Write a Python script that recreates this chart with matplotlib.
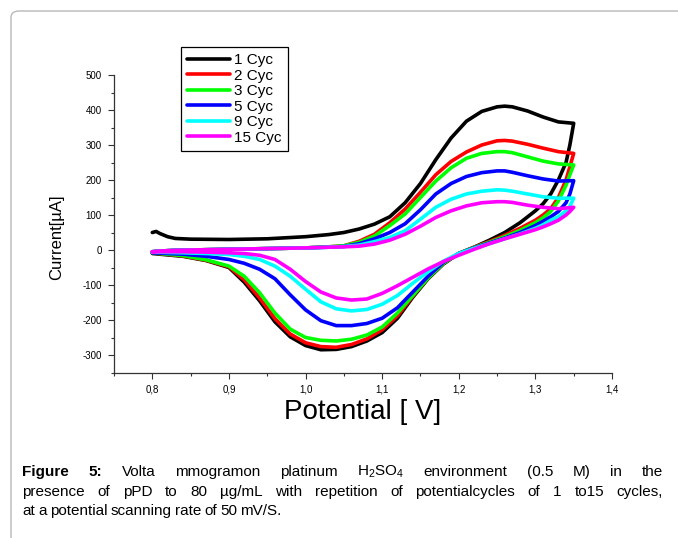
import matplotlib.pyplot as plt
from matplotlib import font_manager
from matplotlib.patches import FancyBboxPatch
from matplotlib.ticker import MultipleLocator

# --- fonts ---
installed = {f.name for f in font_manager.fontManager.ttflist}
cap_font = 'Liberation Sans Narrow' if 'Liberation Sans Narrow' in installed else 'Liberation Sans'
plt.rcParams['font.family'] = ['Liberation Sans', 'DejaVu Sans']
plt.rcParams['mathtext.default'] = 'regular'
plt.rcParams['axes.unicode_minus'] = False

# --- data ---
labels = ['1 Cyc', '2 Cyc', '3 Cyc', '5 Cyc', '9 Cyc', '15 Cyc']
colors = ['#000000', '#ff0000', '#00ff00', '#0000ff', '#00ffff', '#ff00ff']

# forward (anodic) scan, 0.80 -> 1.35 V
fwd_E = [0.80, 0.805, 0.81, 0.82, 0.83, 0.85, 0.90, 0.95, 1.00, 1.03,
         1.05, 1.07, 1.09, 1.11, 1.13, 1.15, 1.17, 1.19, 1.21, 1.23,
         1.25, 1.26, 1.27, 1.29, 1.31, 1.33, 1.35]
fwd_1 = [50, 53, 47, 38, 33, 31, 30, 32, 38, 44,
         50, 60, 74, 95, 135, 190, 258, 320, 368, 396,
         409, 411, 409, 397, 380, 366, 362]
fwd_2 = [-5, -4, -3, -2, -1, 0, 2, 4, 6, 9,
         12, 25, 45, 78, 117, 165, 215, 253, 280, 300,
         312, 313, 311, 302, 291, 281, 276]
fwd_3 = [-5, -4, -3, -2, -1, 0, 2, 4, 6, 9,
         12, 22, 40, 70, 103, 150, 197, 235, 262, 276,
         281, 281, 278, 266, 254, 246, 243]
fwd_5 = [-5, -4, -3, -2, -1, 0, 2, 4, 6, 8,
         10, 18, 32, 50, 75, 115, 160, 190, 210, 221,
         226, 226, 222, 212, 203, 197, 198]
fwd_9 = [-5, -4, -3, -2, -1, 0, 2, 4, 6, 8,
         10, 14, 24, 36, 55, 88, 122, 145, 160, 168,
         172, 171, 168, 160, 152, 148, 148]
fwd_15 = [-5, -4, -3, -2, -1, 0, 2, 4, 6, 8,
          9, 11, 17, 28, 45, 68, 93, 112, 126, 135,
          138, 138, 136, 128, 122, 118, 122]

# reverse (cathodic) scan, 1.35 -> 0.80 V
rev_E = [1.35, 1.345, 1.34, 1.33, 1.32, 1.31, 1.30, 1.28, 1.26, 1.24,
         1.22, 1.20, 1.18, 1.16, 1.14, 1.12, 1.10, 1.08, 1.06, 1.04,
         1.02, 1.00, 0.98, 0.96, 0.94, 0.92, 0.90, 0.87, 0.84, 0.80]
rev_1 = [362, 300, 250, 200, 160, 132, 112, 78, 50, 28,
         8, -10, -40, -82, -135, -195, -236, -260, -276, -284,
         -285, -273, -248, -205, -145, -92, -50, -30, -18, -10]
rev_2 = [276, 238, 200, 150, 118, 100, 85, 62, 42, 24,
         8, -10, -38, -80, -132, -188, -228, -254, -270, -278,
         -276, -265, -240, -196, -137, -85, -48, -29, -17, -8]
rev_3 = [243, 215, 185, 140, 110, 92, 78, 56, 38, 22,
         7, -10, -38, -80, -130, -180, -220, -243, -255, -260,
         -258, -250, -226, -180, -122, -75, -46, -28, -16, -8]
rev_5 = [198, 160, 135, 110, 95, 82, 70, 50, 34, 20,
         6, -10, -35, -75, -120, -165, -195, -210, -216, -216,
         -202, -171, -128, -82, -55, -38, -27, -18, -12, -8]
rev_9 = [148, 125, 112, 95, 85, 72, 62, 46, 32, 18,
         5, -10, -32, -62, -95, -130, -155, -170, -174, -168,
         -148, -112, -75, -46, -27, -18, -13, -10, -8, -6]
rev_15 = [122, 110, 100, 85, 75, 66, 58, 45, 32, 18,
          2, -15, -33, -54, -78, -102, -124, -140, -143, -137,
          -120, -90, -55, -27, -15, -10, -8, -6, -5, -5]

fwd_all = [fwd_1, fwd_2, fwd_3, fwd_5, fwd_9, fwd_15]
rev_all = [rev_1, rev_2, rev_3, rev_5, rev_9, rev_15]

x_ticks = [0.8, 0.9, 1.0, 1.1, 1.2, 1.3, 1.4]
x_ticklabels = ['0,8', '0,9', '1,0', '1,1', '1,2', '1,3', '1,4']
y_ticks = [-300, -200, -100, 0, 100, 200, 300, 400, 500]

caption_1 = ['Figure', '5:', 'Volta', 'mmogramon', 'platinum', 'H$_2$SO$_4$',
             'environment', '(0.5', 'M)', 'in', 'the']
caption_2 = ['presence', 'of', 'pPD', 'to', '80', 'µg/mL', 'with', 'repetition',
             'of', 'potentialcycles', 'of', '1', 'to15', 'cycles,']
caption_3 = ['at', 'a', 'potential', 'scanning', 'rate', 'of', '50', 'mV/S.']

# --- figure ---
W, H = 678, 538
fig = plt.figure(figsize=(W / 100, H / 100), dpi=100)

# rounded outer frame (runs off right and bottom edges)
frame = FancyBboxPatch((11 / W, -0.05), 1.2, 1 - 11 / H + 0.05,
                       boxstyle='round,pad=0,rounding_size=0.012',
                       transform=fig.transFigure, fill=False,
                       edgecolor='#b8b8b8', linewidth=1.0)
fig.patches.append(frame)

ax = fig.add_axes([114 / W, 1 - 372.5 / H, (612 - 114) / W, (372.5 - 75) / H])

for I_f, I_r, c, lab in zip(fwd_all, rev_all, colors, labels):
    ax.plot(fwd_E + rev_E, I_f + I_r, color=c, lw=2.6, label=lab,
            solid_capstyle='round', solid_joinstyle='round')

ax.set_xlim(0.75, 1.4)
ax.set_ylim(-350, 500)
ax.spines['top'].set_visible(False)
ax.spines['right'].set_visible(False)
for s in ['left', 'bottom']:
    ax.spines[s].set_linewidth(0.9)
    ax.spines[s].set_color('#333333')

ax.set_xticks(x_ticks)
ax.set_xticklabels(x_ticklabels)
ax.set_yticks(y_ticks)
ax.xaxis.set_minor_locator(MultipleLocator(0.05))
ax.yaxis.set_minor_locator(MultipleLocator(50))
ax.tick_params(which='major', direction='out', length=4, width=0.8, labelsize=7,
               color='#333333', pad=5)
ax.tick_params(which='minor', direction='out', length=2.5, width=0.8, color='#333333')

fig.text(57 / W, 1 - 237 / H, 'Current[µA]', rotation=90, fontsize=12,
         ha='center', va='center')
fig.text(363 / W, 1 - 412 / H, 'Potential [ V]', fontsize=20,
         ha='center', va='center')

leg = ax.legend(loc='upper left', bbox_to_anchor=(181 / W, 1 - 47 / H),
                bbox_transform=fig.transFigure, fancybox=False, edgecolor='black',
                framealpha=1, fontsize=11, handlelength=2.8, handletextpad=0.3,
                labelspacing=0.1, borderpad=0.4, borderaxespad=0)
leg.get_frame().set_linewidth(0.9)

# --- caption, justified like the source page ---
renderer = fig.canvas.get_renderer()


def caption_line(words, y_px, x0_px, x1_px, n_bold=0, justify=True):
    texts = []
    for i, w in enumerate(words):
        t = fig.text(0, 1 - y_px / H, w, fontsize=11, family=cap_font,
                     weight='bold' if i < n_bold else 'normal', va='baseline')
        texts.append(t)
    widths = [t.get_window_extent(renderer).width for t in texts]
    if justify:
        gap = (x1_px - x0_px - sum(widths)) / (len(words) - 1)
    else:
        gap = 3.2
    x = x0_px
    for t, w in zip(texts, widths):
        t.set_x(x / W)
        x += w + gap


caption_line(caption_1, 476, 22, 663, n_bold=2)
caption_line(caption_2, 496, 22, 663)
caption_line(caption_3, 515, 22, 663, justify=False)

fig.savefig('out.png', dpi=100)
